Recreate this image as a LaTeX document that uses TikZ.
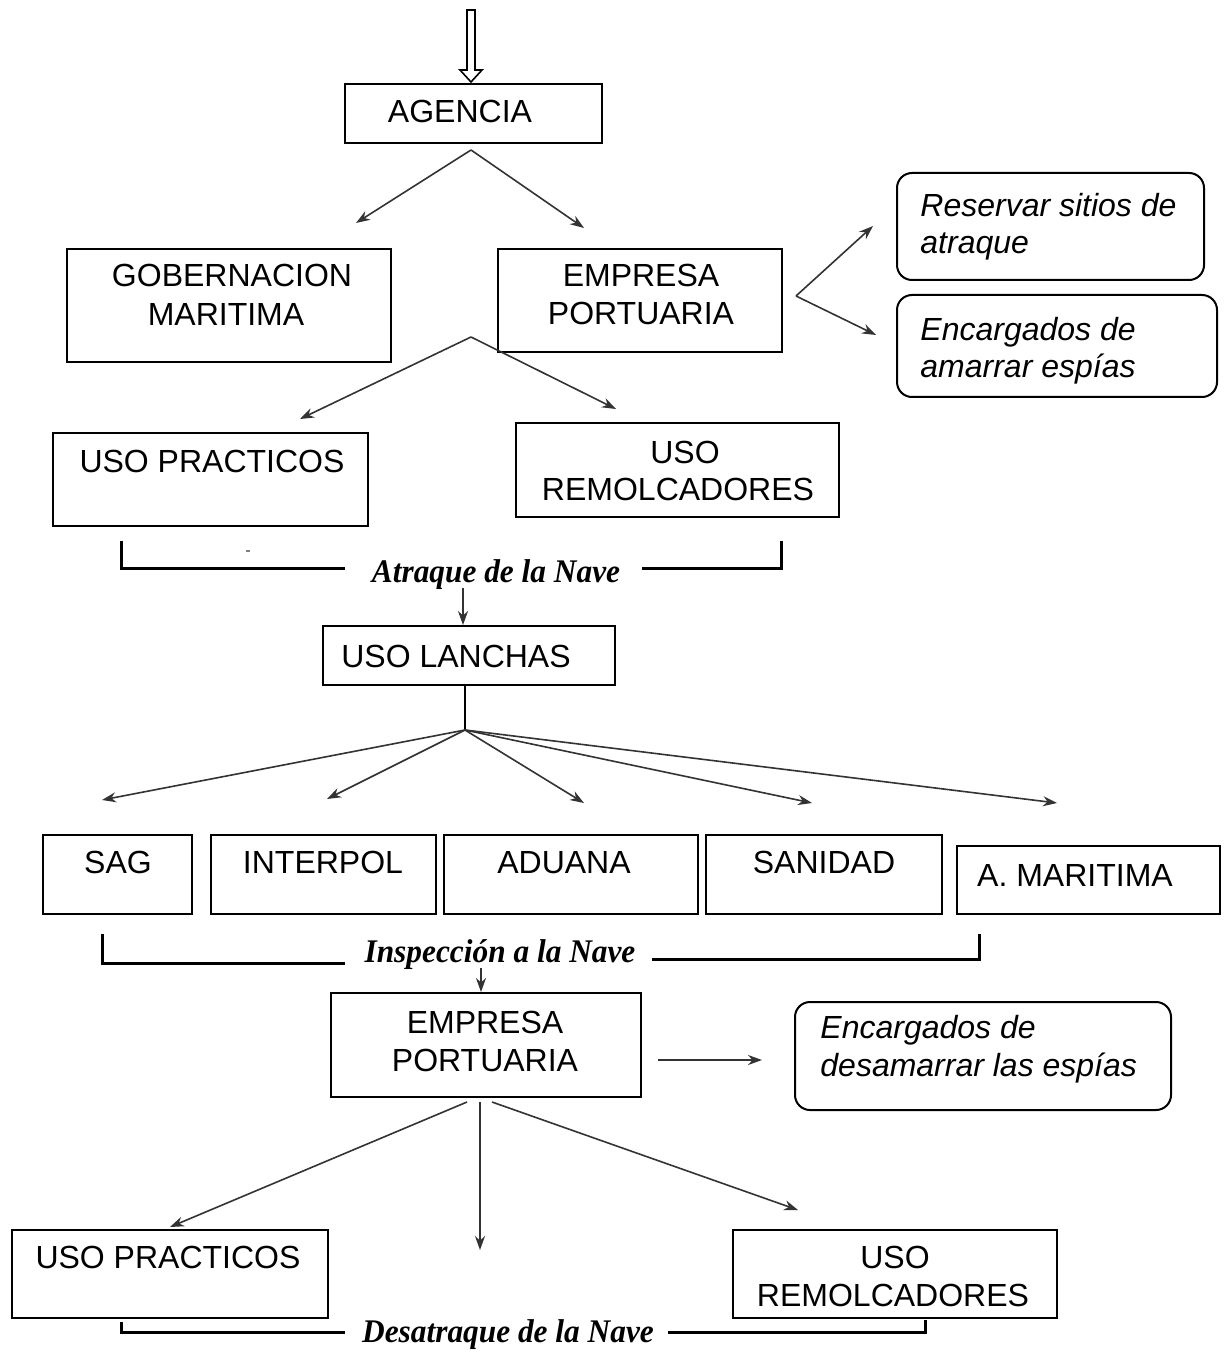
\documentclass[tikz,border=0pt]{standalone}
\usepackage{fontspec}
\setmainfont{Liberation Serif}
\setsansfont{Liberation Sans}
\newfontfamily\phasefont[FakeStretch=0.95]{Liberation Serif}
\usetikzlibrary{arrows.meta,fit}
\begin{document}
\begin{tikzpicture}[x=0.5pt,y=-0.5pt,
  box/.style={draw=black,line width=1pt,inner sep=0pt},
  rbox/.style={box,rounded corners=7.5pt},
  lbl/.style={font=\sffamily\fontsize{16}{19}\selectfont,anchor=base,inner sep=0pt},
  ilbl/.style={font=\sffamily\itshape\fontsize{16}{19}\selectfont,anchor=base west,inner sep=0pt},
  phase/.style={font=\phasefont\bfseries\itshape\fontsize{16.5}{19}\selectfont,anchor=base,inner sep=0pt},
  arr/.style={draw=black!80,line width=0.8pt,-{Stealth[length=7pt,width=5pt]}},
  brk/.style={draw=black,line width=1.5pt},
]
\useasboundingbox (0,0) rectangle (1225,1352);

% top hollow arrow
\draw[line width=0.8pt,fill=white] (467,10) -- (475,10) -- (475,70) -- (482,70) -- (471,82) -- (460,70) -- (467,70) -- cycle;

% boxes
\node[box,fit={(345,84) (602,143)}] (agencia) {};
\node[lbl] (tag) at (460,123) {AGENCIA};

\node[box,fit={(67,249) (391,362)}] (gob) {};
\node[lbl] (tgob1) at (232,287) {GOBERNACION};
\node[lbl] (tgob2) at (226,326) {MARITIMA};

\node[box,fit={(498,249) (782,352)}] (emp1) {};
\node[lbl] (temp1a) at (641,287) {EMPRESA};
\node[lbl] (temp1b) at (641,325) {PORTUARIA};

\node[rbox,fit={(897,173) (1204,280)}] (res) {};
\node[ilbl] (tres1) at (920,217) {Reservar sitios de};
\node[ilbl] (tres2) at (920,254) {atraque};

\node[rbox,fit={(897,295) (1217,397)}] (enc1) {};
\node[ilbl] (tenc1a) at (920,341) {Encargados de};
\node[ilbl] (tenc1b) at (920,378) {amarrar espías};

\node[box,fit={(53,433) (368,526)}] (prac1) {};
\node[lbl] (tprac1) at (212,472) {USO PRACTICOS};

\node[box,fit={(516,423) (839,517)}] (rem1) {};
\node[lbl] (trem1a) at (685,463) {USO};
\node[lbl] (trem1b) at (678,500) {REMOLCADORES};

\node[phase] (ph1) at (496,582) {Atraque de la Nave};

\node[box,fit={(323,626) (615,685)}] (lanchas) {};
\node[lbl] (tlan) at (456,667) {USO LANCHAS};

\node[box,fit={(43,835) (192,914)}] (sag) {};
\node[lbl] (tsag) at (118,873) {SAG};
\node[box,fit={(211,835) (436,914)}] (interpol) {};
\node[lbl] (tint) at (323,873) {INTERPOL};
\node[box,fit={(444,835) (698,914)}] (aduana) {};
\node[lbl] (tadu) at (564,873) {ADUANA};
\node[box,fit={(706,835) (942,914)}] (sanidad) {};
\node[lbl] (tsan) at (824,873) {SANIDAD};
\node[box,fit={(957,846) (1220,914)}] (amar) {};
\node[lbl] (tama) at (1075,886) {A. MARITIMA};

\node[phase] (ph2) at (500,962) {Inspección a la Nave};

\node[box,fit={(331,993) (641,1097)}] (emp2) {};
\node[lbl] (temp2a) at (485,1033) {EMPRESA};
\node[lbl] (temp2b) at (485,1071) {PORTUARIA};

\node[rbox,fit={(795,1002) (1171,1110)}] (enc2) {};
\node[ilbl] (tenc2a) at (820,1038) {Encargados de};
\node[ilbl] (tenc2b) at (820,1076) {desamarrar las espías};

\node[box,fit={(12,1230) (328,1318)}] (prac2) {};
\node[lbl] (tprac2) at (168,1268) {USO PRACTICOS};

\node[box,fit={(733,1230) (1057,1318)}] (rem2) {};
\node[lbl] (trem2a) at (895,1268) {USO};
\node[lbl] (trem2b) at (893,1306) {REMOLCADORES};

\node[phase] (ph3) at (508,1342) {Desatraque de la Nave};

% connector points
\coordinate (a0) at (471,150);
\coordinate (a1) at (356,223);
\coordinate (a2) at (584,228);
\coordinate (e0) at (796,296);
\coordinate (e1) at (873,226);
\coordinate (e2) at (876,335);
\coordinate (p0) at (471,337);
\coordinate (p1) at (300,419);
\coordinate (p2) at (616,409);
\coordinate (l0) at (463,588);
\coordinate (l1) at (463,625);
\coordinate (h0) at (465,685);
\coordinate (h1) at (465,730);
\coordinate (s1) at (102,800);
\coordinate (s2) at (327,799);
\coordinate (s3) at (584,803);
\coordinate (s4) at (812,803);
\coordinate (s5) at (1057,803);
\coordinate (i0) at (481,968);
\coordinate (i1) at (481,992);
\coordinate (r0) at (658,1060);
\coordinate (r1) at (762,1060);
\coordinate (d0) at (467,1102);
\coordinate (d1) at (170,1227);
\coordinate (m0) at (480,1102);
\coordinate (m1) at (480,1250);
\coordinate (f0) at (492,1102);
\coordinate (f1) at (798,1210);

% arrows
\draw[arr] (a0) -- (a1);
\draw[arr] (a0) -- (a2);
\draw[arr] (e0) -- (e1);
\draw[arr] (e0) -- (e2);
\draw[arr] (p0) -- (p1);
\draw[arr] (p0) -- (p2);
\draw[arr] (l0) -- (l1);
\draw[draw=black,line width=1pt] (h0) -- (h1);
\foreach \t in {s1,s2,s3,s4,s5} \draw[arr] (h1) -- (\t);
\draw[arr] (i0) -- (i1);
\draw[arr] (r0) -- (r1);
\draw[arr] (d0) -- (d1);
\draw[arr] (m0) -- (m1);
\draw[arr] (f0) -- (f1);

% brackets
\draw[brk] (121,541) |- (345,568);
\draw[brk] (642,568) -| (781,541);
\draw[draw=black!50,line width=1pt] (246,551) -- (250,551);
\draw[brk] (102,934) |- (345,963);
\draw[brk] (652,959) -| (979,934);
\draw[brk] (121,1322) |- (345,1332);
\draw[brk] (668,1332) -| (925,1320);
\end{tikzpicture}
\end{document}
